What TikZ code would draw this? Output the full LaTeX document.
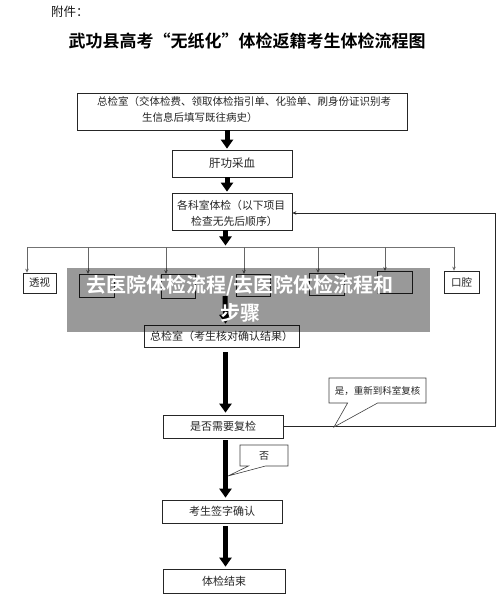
\documentclass[tikz,border=0pt]{standalone}
\usepackage{fontspec}
\newfontfamily\cjk{Noto Sans CJK SC}
\newfontfamily\cjkb{Noto Sans CJK SC Bold}
\usetikzlibrary{arrows.meta,shapes.callouts}
\begin{document}
\begin{tikzpicture}[x=1pt,y=-1pt,
  box/.style={draw=black!85,line width=0.7pt,inner sep=0pt,text=black!85,
    font=\cjk\fontsize{11}{13}\selectfont},
  small/.style={box,font=\cjk\fontsize{10.5}{12}\selectfont},
  txt/.style={inner sep=0pt,text=black!85,font=\cjk\fontsize{10.5}{12}\selectfont},
  bigarrow/.style={line width=5pt,black,-{Triangle[length=9pt,width=12pt]}},
  drop/.style={draw=black!60,line width=0.8pt,-{Stealth[length=4pt,width=3.5pt]}},
  bar/.style={draw=black!55,line width=0.9pt},
  ret/.style={draw=black!85,line width=0.7pt},
  callbox/.style={rectangle callout,draw=black!75,line width=0.6pt,fill=white,inner sep=0pt,
    text=black!85}
]
\useasboundingbox[fill=white] (0,0) rectangle (500,601);

% header
\node[anchor=west,inner sep=0pt,font=\cjk\fontsize{12.5}{14}\selectfont,text=black!90] (att) at (51,12) {附件：};
\node[inner sep=0pt,font=\cjkb\fontsize{17}{20}\selectfont] (title) at (247,41) {武功县高考“无纸化”体检返籍考生体检流程图};

% main boxes
\node[box,minimum width=330pt,minimum height=37pt] (b1) at (242,111.5) {};
\node[txt,anchor=west] (b1a) at (97,102) {总检室（交体检费、领取体检指引单、化验单、刷身份证识别考};
\node[txt,anchor=west] (b1b) at (142,118) {生信息后填写既往病史）};

\node[box,minimum width=120pt,minimum height=27pt,font=\cjk\fontsize{11.5}{13}\selectfont] (b2) at (232,163.5) {肝功采血};

\node[box,minimum width=120pt,minimum height=37pt] (b3) at (232,211.5) {};
\node[txt,anchor=west,font=\cjk\fontsize{10.8}{12}\selectfont] (b3a) at (177,205) {各科室体检（以下项目};
\node[txt,anchor=west,font=\cjk\fontsize{10.8}{12}\selectfont] (b3b) at (191,221) {检查无先后顺序）};

% department boxes
\node[small,minimum width=33pt,minimum height=20pt] (d1) at (39.5,283) {透视};
\node[small,minimum width=35pt,minimum height=23pt] (d2) at (96.5,285.5) {};
\node[small,minimum width=34pt,minimum height=24pt] (d3) at (178,286) {};
\node[small,minimum width=34pt,minimum height=22pt] (d4) at (253,285) {};
\node[small,minimum width=35pt,minimum height=22pt] (d5) at (326.5,284) {};
\node[small,minimum width=35pt,minimum height=22pt] (d6) at (394.5,282) {};
\node[small,minimum width=35pt,minimum height=22pt] (d7) at (461.5,282) {口腔};

\coordinate (barL) at (27,247);
\coordinate (barR) at (454,247);
\draw[bar] (barL) -- (barR);
\draw[drop] (barL) -- (barL |- d1.north);
\draw[drop] (88,247) -- (88,274);
\draw[drop] (166,247) -- (166,274);
\draw[drop] (244,247) -- (244,274);
\draw[drop] (318,247) -- (318,273);
\draw[drop] (385,247) -- (385,271);
\draw[drop] (barR) -- (barR |- d7.north);

\node[box,minimum width=155pt,minimum height=22pt] (b4) at (221.5,336) {总检室（考生核对确认结果）};
\node[box,minimum width=120pt,minimum height=23pt] (chk) at (223,426.5) {是否需要复检};
\node[box,minimum width=120pt,minimum height=23pt] (sign) at (222,511.5) {考生签字确认};
\node[box,minimum width=122pt,minimum height=24pt] (fin) at (224,581) {体检结束};

% thick arrows
\coordinate (ax) at (227,0);
\coordinate (bx) at (225.5,0);
\draw[bigarrow] (b1.south -| ax) -- ([yshift=1pt]b2.north -| ax);
\draw[bigarrow] (b2.south -| ax) -- ([yshift=1pt]b3.north -| ax);
\draw[bigarrow] (b3.south -| bx) -- (225.5,245.5);
\draw[bigarrow] (225,296) -- ([yshift=1pt]b4.north -| bx);
\draw[bigarrow] ([yshift=-5pt]b4.south -| bx) -- ([yshift=2pt]chk.north -| bx);
\draw[bigarrow] ([yshift=-2pt]chk.south -| bx) -- ([yshift=2pt]sign.north -| bx);
\draw[bigarrow] ([yshift=-3pt]sign.south -| bx) -- ([yshift=2pt]fin.north -| bx);

% return line
\coordinate (r1) at (495,426.5);
\coordinate (r2) at (495,213);
\draw[ret] (chk.east) -- (r1) -- (r2);
\draw[ret,-{Stealth[length=4pt,width=3.5pt]}] (r2) -- (r2 -| b3.east);

% callouts
\coordinate (tipyes) at (334,427);
\coordinate (tipno) at (228,476);
\node[callbox,minimum width=97pt,minimum height=25pt,callout absolute pointer={(tipyes)},
  callout pointer width=30pt,font=\cjk\fontsize{9.5}{11}\selectfont] (yes) at (377.5,390.5) {是，重新到科室复核};
\node[callbox,minimum width=48pt,minimum height=21pt,callout absolute pointer={(tipno)},
  callout pointer width=17pt,font=\cjk\fontsize{10}{11}\selectfont] (no) at (264,455.5) {否};

% watermark
\fill[black,opacity=0.4] (67,268) rectangle (430,332);
\node[inner sep=0pt,text=white,align=center,font=\cjkb\fontsize{20}{28}\selectfont] (wm) at (240,299) {去医院体检流程/去医院体检流程和\\步骤};
\end{tikzpicture}
\end{document}
